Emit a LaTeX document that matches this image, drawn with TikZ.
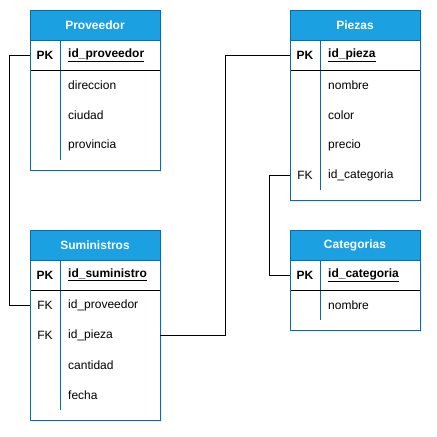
\documentclass[tikz,border=0pt]{standalone}
\usepackage{fontspec}
\setmainfont{Liberation Sans}
\usetikzlibrary{shadows}
\definecolor{hdrfill}{HTML}{1BA1E2}
\definecolor{hdrline}{HTML}{006EAF}
\tikzset{
  tbl/.style={draw=hdrline, line width=0.8pt, fill=white, drop shadow={shadow xshift=1.5pt, shadow yshift=-1.5pt, opacity=0.12}},
  hdr/.style={draw=hdrline, line width=0.8pt, fill=hdrfill, minimum width=130pt, minimum height=30pt, inner sep=0pt, text=white, font=\fontsize{12}{14}\selectfont\bfseries},
  rowbox/.style={minimum width=130pt, minimum height=30pt, inner sep=0pt},
  keyt/.style={font=\fontsize{12}{14}\selectfont, inner sep=0pt},
  fld/.style={font=\fontsize{12}{14}\selectfont, anchor=west, inner sep=0pt},
  divider/.style={draw=hdrline, line width=0.8pt},
  sep/.style={draw=black, line width=0.8pt},
  conn/.style={draw=black, line width=0.8pt}
}
\begin{document}
\begin{tikzpicture}[x=1pt,y=-1pt]
\useasboundingbox (0,0) rectangle (437,437);
% ---------- Proveedor
\path[tbl] (30,10) rectangle (160,170);
\node[hdr] (provh) at (95,25) {Proveedor};
\draw[divider] (60,40) -- (60,160);
\draw[sep] (30,70) -- (160,70);
\draw[draw=hdrline, line width=0.8pt] (30,40) rectangle (160,170);
\node[rowbox] (prov1) at (95,55) {};
\node[rowbox] (prov2) at (95,85) {};
\node[rowbox] (prov3) at (95,115) {};
\node[rowbox] (prov4) at (95,145) {};
\node[keyt, font=\fontsize{12}{14}\selectfont\bfseries] (provk1) at (45,55) {PK};
\node[fld, font=\fontsize{12}{14}\selectfont\bfseries] (provf1) at (68,55) {\underline{id\_proveedor}};
\node[fld] (provf2) at (68,85) {direccion};
\node[fld] (provf3) at (68,115) {ciudad};
\node[fld] (provf4) at (68,145) {provincia};
% ---------- Suministros
\path[tbl] (30,230) rectangle (160,420);
\node[hdr] (sumh) at (95,245) {Suministros};
\draw[divider] (60,260) -- (60,410);
\draw[sep] (30,290) -- (160,290);
\draw[draw=hdrline, line width=0.8pt] (30,260) rectangle (160,420);
\node[rowbox] (sum1) at (95,275) {};
\node[rowbox] (sum2) at (95,305) {};
\node[rowbox] (sum3) at (95,335) {};
\node[rowbox] (sum4) at (95,365) {};
\node[rowbox] (sum5) at (95,395) {};
\node[keyt, font=\fontsize{12}{14}\selectfont\bfseries] (sumk1) at (45,275) {PK};
\node[keyt] (sumk2) at (45,305) {FK};
\node[keyt] (sumk3) at (45,335) {FK};
\node[fld, font=\fontsize{12}{14}\selectfont\bfseries] (sumf1) at (68,275) {\underline{id\_suministro}};
\node[fld] (sumf2) at (68,305) {id\_proveedor};
\node[fld] (sumf3) at (68,335) {id\_pieza};
\node[fld] (sumf4) at (68,365) {cantidad};
\node[fld] (sumf5) at (68,395) {fecha};
% ---------- Piezas
\path[tbl] (290,10) rectangle (420,200);
\node[hdr] (pzh) at (355,25) {Piezas};
\draw[divider] (320,40) -- (320,190);
\draw[sep] (290,70) -- (420,70);
\draw[draw=hdrline, line width=0.8pt] (290,40) rectangle (420,200);
\node[rowbox] (pz1) at (355,55) {};
\node[rowbox] (pz2) at (355,85) {};
\node[rowbox] (pz3) at (355,115) {};
\node[rowbox] (pz4) at (355,145) {};
\node[rowbox] (pz5) at (355,175) {};
\node[keyt, font=\fontsize{12}{14}\selectfont\bfseries] (pzk1) at (305,55) {PK};
\node[keyt] (pzk5) at (305,175) {FK};
\node[fld, font=\fontsize{12}{14}\selectfont\bfseries] (pzf1) at (328,55) {\underline{id\_pieza}};
\node[fld] (pzf2) at (328,85) {nombre};
\node[fld] (pzf3) at (328,115) {color};
\node[fld] (pzf4) at (328,145) {precio};
\node[fld] (pzf5) at (328,175) {id\_categoria};
% ---------- Categorias
\path[tbl] (290,230) rectangle (420,330);
\node[hdr] (cath) at (355,245) {Categorias};
\draw[divider] (320,260) -- (320,320);
\draw[sep] (290,290) -- (420,290);
\draw[draw=hdrline, line width=0.8pt] (290,260) rectangle (420,330);
\node[rowbox] (cat1) at (355,275) {};
\node[rowbox] (cat2) at (355,305) {};
\node[keyt, font=\fontsize{12}{14}\selectfont\bfseries] (catk1) at (305,275) {PK};
\node[fld, font=\fontsize{12}{14}\selectfont\bfseries] (catf1) at (328,275) {\underline{id\_categoria}};
\node[fld] (catf2) at (328,305) {nombre};
% ---------- connectors
\draw[conn] (prov1.west) -- ++(-20,0) |- (sum2.west);
\draw[conn] (sum3.east) -- ++(65,0) |- (pz1.west);
\draw[conn] (pz5.west) -- ++(-20,0) |- (cat1.west);
\end{tikzpicture}
\end{document}
